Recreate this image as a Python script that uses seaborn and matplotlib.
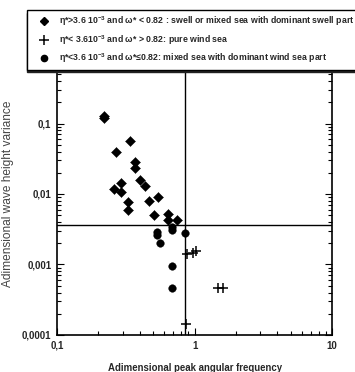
import matplotlib
matplotlib.use("Agg")
import matplotlib.pyplot as plt
import matplotlib.ticker as mticker
from matplotlib.lines import Line2D
import numpy as np
import pandas as pd
import seaborn as sns

# swell or mixed sea with dominant swell part (diamonds)
swell_omega = [0.22, 0.22, 0.268, 0.341, 0.369, 0.369, 0.399, 0.439, 0.464, 0.26, 0.292,
               0.292, 0.326, 0.326, 0.54, 0.51, 0.638, 0.638, 0.74]
swell_eta = [0.126, 0.12, 0.0394, 0.0557, 0.0288, 0.023, 0.0159, 0.0131, 0.00805, 0.0117, 0.0141,
             0.0108, 0.00764, 0.006, 0.00897, 0.00506, 0.00525, 0.0043, 0.0043]

# pure wind sea (crosses)
wind_omega = [0.885, 0.977, 1.03, 1.47, 1.62, 0.86]
wind_eta = [0.00143, 0.00146, 0.00156, 0.00046, 0.00046, 0.000143]

# mixed sea with dominant wind sea part (circles)
mixed_omega = [0.535, 0.535, 0.565, 0.68, 0.69, 0.85, 0.68, 0.68]
mixed_eta = [0.00288, 0.0026, 0.00204, 0.0034, 0.0031, 0.0028, 0.000946, 0.000467]

eta_limit = 3.6e-3
omega_limit = 0.85

legend_labels = [
    r"η*>3.6 10$^{-3}$ and ω* < 0.82 : swell or mixed sea with dominant swell part",
    r"η*< 3.610$^{-3}$ and ω* > 0.82: pure wind sea",
    r"η*<3.6 10$^{-3}$ and ω*≤0.82: mixed sea with dominant wind sea part",
]

df = pd.DataFrame({
    'omega': swell_omega + wind_omega + mixed_omega,
    'eta': swell_eta + wind_eta + mixed_eta,
    'group': ['swell'] * len(swell_omega) + ['wind'] * len(wind_omega) + ['mixed'] * len(mixed_omega),
})

sns.set_style("ticks")
plt.rcParams['font.family'] = ['Liberation Sans', 'DejaVu Sans']
plt.rcParams['mathtext.fontset'] = 'custom'
plt.rcParams['mathtext.rm'] = 'Liberation Sans:bold'
plt.rcParams['mathtext.default'] = 'rm'

fig = plt.figure(figsize=(3.55, 3.72), dpi=100)
ax = fig.add_axes([0.1606, 0.0995, 0.775, 0.758])

markers = {'swell': 'D', 'wind': '+', 'mixed': 'o'}
sizes = {'swell': 26, 'wind': 50, 'mixed': 30}
for g in ['swell', 'wind', 'mixed']:
    sns.scatterplot(data=df[df.group == g], x='omega', y='eta', marker=markers[g], s=sizes[g],
                    color='black', edgecolor='black', linewidth=1.1 if g == 'wind' else 0.3,
                    ax=ax, legend=False, zorder=3)

ax.axhline(eta_limit, color='black', lw=1.0, zorder=2)
ax.axvline(omega_limit, color='black', lw=1.0, zorder=2)

ax.set_xscale('log')
ax.set_yscale('log')
ax.set_xlim(0.1, 10)
ax.set_ylim(1e-4, 1)


def comma_fmt(v, pos):
    s = f"{v:g}" if v >= 1 else f"{v:.{int(round(-np.log10(v)))}f}"
    return s.replace('.', ',')


ax.xaxis.set_major_locator(mticker.FixedLocator([0.1, 1, 10]))
ax.yaxis.set_major_locator(mticker.FixedLocator([1e-4, 1e-3, 1e-2, 1e-1, 1]))
ax.xaxis.set_major_formatter(mticker.FuncFormatter(comma_fmt))
ax.yaxis.set_major_formatter(mticker.FuncFormatter(comma_fmt))
ax.xaxis.set_minor_locator(mticker.LogLocator(base=10, subs=np.arange(2, 10)))
ax.yaxis.set_minor_locator(mticker.LogLocator(base=10, subs=np.arange(2, 10)))
ax.xaxis.set_minor_formatter(mticker.NullFormatter())
ax.yaxis.set_minor_formatter(mticker.NullFormatter())
ax.tick_params(which='both', direction='in', top=True, right=True, width=0.8, color='black')
ax.tick_params(which='major', length=5, labelsize=7, pad=4)
ax.tick_params(which='minor', length=3)
for lab in ax.get_xticklabels() + ax.get_yticklabels():
    lab.set_fontweight('bold')
for sp in ax.spines.values():
    sp.set_linewidth(1.2)
    sp.set_color('black')

ax.set_xlabel('Adimensional peak angular frequency', fontsize=6.9, fontweight='bold', labelpad=9)
ax.set_ylabel('Adimensional wave height variance', fontsize=8.6, color='#444444', va='center')
ax.yaxis.set_label_coords(-0.178, 0.5)

handles = [
    Line2D([], [], marker='D', color='black', ls='none', markersize=4.5),
    Line2D([], [], marker='+', color='black', ls='none', markersize=6.5, markeredgewidth=1.1),
    Line2D([], [], marker='o', color='black', ls='none', markersize=4.5),
]
leg = ax.legend(handles, legend_labels, loc='upper left', bbox_to_anchor=(0.076, 0.973),
                bbox_transform=fig.transFigure, borderaxespad=0, frameon=True, fancybox=False,
                shadow={'color': '#222222', 'alpha': 1.0, 'ox': 0, 'oy': -2},
                prop={'size': 6.3, 'weight': 'bold'}, handletextpad=0.3,
                labelspacing=0.55, borderpad=0.5, handlelength=2.9)
leg.get_frame().set_edgecolor('black')
leg.get_frame().set_linewidth(1.0)
leg.set_zorder(10)

fig.savefig('out.png', dpi=100)
